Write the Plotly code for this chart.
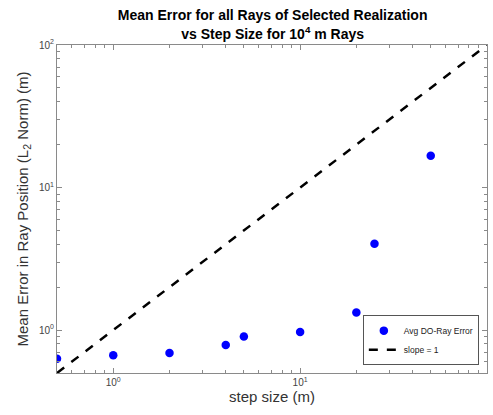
import plotly.graph_objects as go

step_size = [0.5, 1, 2, 4, 5, 10, 20, 25, 50]
mean_error = [0.63, 0.665, 0.69, 0.785, 0.90, 0.97, 1.33, 4.04, 16.7]
slope_x = [0.5, 100]
slope_y = [0.5, 100]

decade_vals = [1, 10, 100]
decade_text = ["10<sup>0</sup>", "10<sup>1</sup>", "10<sup>2</sup>"]
minor_vals = [0.6, 0.7, 0.8, 0.9] + [k for k in range(2, 10)] + [10 * k for k in range(2, 10)]

font = "Liberation Sans, Arial, Helvetica, sans-serif"

fig = go.Figure([
    go.Scatter(x=step_size, y=mean_error, mode="markers", name="Avg DO-Ray Error",
               marker=dict(color="#0000FF", size=8.5)),
    go.Scatter(x=slope_x, y=slope_y, mode="lines", name="slope = 1",
               line=dict(color="black", width=2.5, dash="dash")),
])

axis_common = dict(
    type="log", tickmode="array", tickvals=decade_vals, ticktext=decade_text,
    showgrid=False, zeroline=False, automargin=False,
    showline=True, linecolor="#8a8a8a", linewidth=1, mirror="ticks",
    ticks="inside", ticklen=5, tickcolor="#8a8a8a",
    minor=dict(ticks="inside", ticklen=3, tickcolor="#8a8a8a", tickmode="array",
               tickvals=minor_vals, showgrid=False),
    tickfont=dict(size=10, color="#444444", family=font),
)

fig.update_layout(
    width=493, height=415,
    margin=dict(l=57, r=6, t=45, b=42),
    plot_bgcolor="white", paper_bgcolor="white",
    title=dict(text="<b>Mean Error for all Rays of Selected Realization<br>vs Step Size for 10<sup>4</sup> m Rays</b>",
               x=0.553, xref="container", xanchor="center", y=0.951, yref="container", yanchor="middle",
               font=dict(size=14, color="black", family=font)),
    xaxis=dict(axis_common, range=[-0.30103, 2],
               title=dict(text="step size (m)", font=dict(size=15, color="#333333", family=font), standoff=4)),
    yaxis=dict(axis_common, range=[-0.30103, 2],
               title=dict(text="Mean Error in Ray Position (L<sub>2</sub> Norm) (m)",
                          font=dict(size=15, color="#333333", family=font), standoff=6)),
    legend=dict(x=0.981, y=0.024, xanchor="right", yanchor="bottom",
                bgcolor="white", bordercolor="#555555", borderwidth=1,
                font=dict(size=8.5, color="#222222", family=font),
                itemwidth=30, tracegroupgap=0),
    showlegend=True,
)

# page has a default body margin; remove it so the figure sits at the window corner
fig.write_html("out.html", config=dict(displayModeBar=False),
               post_script="document.body.style.margin='0px';")
